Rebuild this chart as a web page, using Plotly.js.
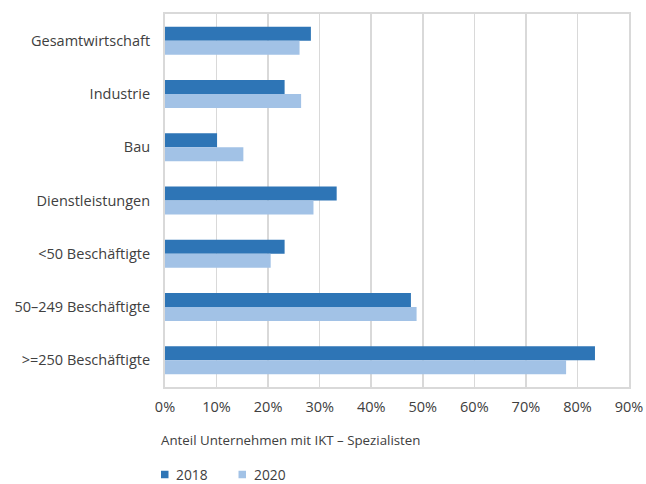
<!DOCTYPE html>
<html>
<head>
<meta charset="utf-8">
<script src="https://cdn.plot.ly/plotly-3.0.1.min.js"></script>
<style>html,body{margin:0;padding:0;background:#fff;}#chart{width:646px;height:484px;}</style>
</head>
<body>
<div id="chart"></div>
<script>
const categories = ["Gesamtwirtschaft", "Industrie", "Bau", "Dienstleistungen", "<50 Beschäftigte", "50–249 Beschäftigte", ">=250 Beschäftigte"];
const values2018 = [0.283, 0.232, 0.101, 0.333, 0.232, 0.477, 0.834];
const values2020 = [0.261, 0.264, 0.152, 0.288, 0.205, 0.488, 0.778];
const seriesNames = ["2018", "2020"];
const xTickVals = [0, 0.1, 0.2, 0.3, 0.4, 0.5, 0.6, 0.7, 0.8, 0.9];
const xTitle = "Anteil Unternehmen mit IKT – Spezialisten";

const colors = ["#2E75B6", "#A2C2E6"];
const fam = "Open Sans, sans-serif";
const txt = "#404040";

const W = 646, H = 484;
const M = {l: 165, r: 17, t: 14, b: 97};
const PW = W - M.l - M.r, PH = H - M.t - M.b;
// pixel -> paper helpers (for legend/labels only, not data marks)
const px = (x) => (x - M.l) / PW;
const py = (y) => (H - M.b - y) / PH;

const traces = [
  {type: "bar", orientation: "h", name: seriesNames[0], y: categories, x: values2018,
   marker: {color: colors[0]}, showlegend: false},
  {type: "bar", orientation: "h", name: seriesNames[1], y: categories, x: values2020,
   marker: {color: colors[1]}, showlegend: false}
];

const legendX = [161, 238.5];
const legendY = 474.5;
const shapes = seriesNames.map((n, i) => ({
  type: "rect", xref: "paper", yref: "paper",
  x0: px(legendX[i]), x1: px(legendX[i] + 7.5), y0: py(legendY + 3.75), y1: py(legendY - 3.75),
  fillcolor: colors[i], line: {width: 0}
}));
const annotations = [
  {xref: "paper", yref: "paper", x: px(159), y: py(440), xanchor: "left", yanchor: "middle",
   text: xTitle, showarrow: false, font: {family: fam, size: 13.3, color: txt}}
].concat(seriesNames.map((n, i) => ({
  xref: "paper", yref: "paper", x: px(legendX[i] + 14), y: py(legendY), xanchor: "left", yanchor: "middle",
  text: n, showarrow: false, borderpad: 0, font: {family: fam, size: 13.8, color: txt}
})));

const layout = {
  width: W, height: H,
  margin: M,
  paper_bgcolor: "#ffffff", plot_bgcolor: "#ffffff",
  font: {family: fam, size: 14, color: txt},
  barmode: "group", bargap: 0.475, bargroupgap: 0,
  showlegend: false,
  xaxis: {
    range: [0, 0.9], tickvals: xTickVals, tickformat: ".0%",
    showgrid: true, gridcolor: "#d9d9d9", gridwidth: 1.5,
    showline: true, mirror: true, linecolor: "#d9d9d9", linewidth: 2,
    zeroline: false, ticks: "", ticklabelstandoff: 6,
    tickfont: {family: fam, size: 14.5, color: txt},
    fixedrange: true
  },
  yaxis: {
    categoryorder: "array", categoryarray: categories,
    range: [6.5, -0.5], autorange: false,
    showgrid: false, showline: true, mirror: true, linecolor: "#d9d9d9", linewidth: 2,
    zeroline: false, ticks: "", ticklabelstandoff: 10,
    tickfont: {family: fam, size: 14.5, color: txt},
    fixedrange: true
  },
  shapes: shapes,
  annotations: annotations
};

Plotly.newPlot("chart", traces, layout, {displayModeBar: false, staticPlot: true});
</script>
</body>
</html>
